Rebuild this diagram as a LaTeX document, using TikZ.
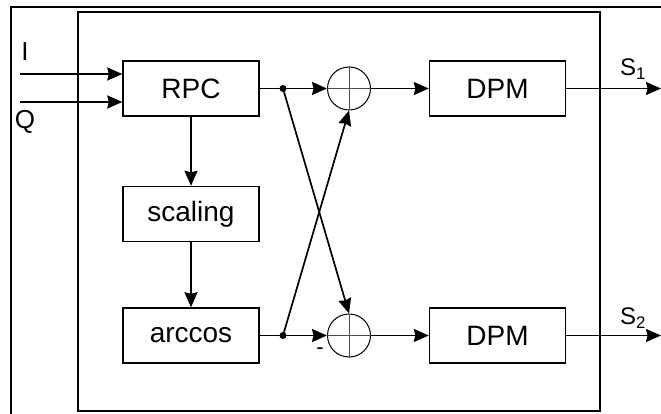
\documentclass[tikz,border=0pt]{standalone}
\usepackage{fontspec}
\setmainfont{Liberation Sans}
\usetikzlibrary{arrows.meta}
\begin{document}
\begin{tikzpicture}[x=1pt,y=-1pt,
  blk/.style={draw,line width=1.4pt,minimum width=136pt,minimum height=55pt,inner sep=0pt,font=\fontsize{28}{30}\selectfont},
  sumnode/.style={draw,circle,line width=1pt,minimum size=43pt,inner sep=0pt},
  conn/.style={line width=1.7pt},
  arr/.style={conn,-{Stealth[length=15pt,width=13pt,inset=1.5pt]}},
  dotnode/.style={circle,fill,inner sep=0pt,minimum size=7pt},
  lbl/.style={font=\fontsize{26}{28}\selectfont,inner sep=0pt}]
\useasboundingbox (0,0) rectangle (661,414);
% frames
\draw[line width=1.8pt] (11,414) -- (11,7) -- (661,7);
\draw[line width=2.8pt] (78,12) rectangle (600,411);
% blocks
\node[blk] (rpc) at (191,88.5) {RPC};
\node[blk] (scal) at (191,214) {scaling};
\node[blk] (acos) at (191,335.5) {arccos};
\node[blk] (dpm1) at (497.5,88.5) {DPM};
\node[blk] (dpm2) at (497.5,335.5) {DPM};
\node[sumnode] (s1) at (349,88.5) {};
\node[sumnode] (s2) at (349,335.5) {};
\draw[gray!60!black,line width=1pt] (s1.north) -- (s1.south) (s1.west) -- (s1.east);
\draw[gray!60!black,line width=1pt] (s2.north) -- (s2.south) (s2.west) -- (s2.east);
\node[dotnode] (d1) at (283,88.5) {};
\node[dotnode] (d2) at (283,335.5) {};
% inputs
\coordinate (iin) at (20,74);
\coordinate (qin) at (20,102);
\draw[arr] (iin) -- (iin -| rpc.west);
\draw[arr] (qin) -- (qin -| rpc.west);
\node[lbl] (il) at (25,52) {I};
\node[lbl] (ql) at (25,122) {Q};
% chain
\draw[arr] (rpc) -- (scal);
\draw[arr] (scal) -- (acos);
\draw[conn] (rpc.east) -- (d1.center);
\draw[conn] (acos.east) -- (d2.center);
\draw[arr] (d1.center) -- (s1.west);
\draw[arr] (d2.center) -- (s2.west);
\draw[arr] (d1.center) -- (s2.north);
\draw[arr] (d2.center) -- (s1.south);
\draw[arr] (s1.east) -- (dpm1.west);
\draw[arr] (s2.east) -- (dpm2.west);
\node[font=\fontsize{22}{24}\selectfont,inner sep=0pt] (minus) at (320,351) {-};
% outputs
\coordinate (o1) at (661,88.5);
\coordinate (o2) at (661,335.5);
\draw[arr] (dpm1.east) -- (o1);
\draw[arr] (dpm2.east) -- (o2);
\node[font=\fontsize{24}{26}\selectfont,inner sep=0pt] (s1l) at (633,69) {S\textsubscript{1}};
\node[font=\fontsize{24}{26}\selectfont,inner sep=0pt] (s2l) at (633,318) {S\textsubscript{2}};
\end{tikzpicture}
\end{document}
